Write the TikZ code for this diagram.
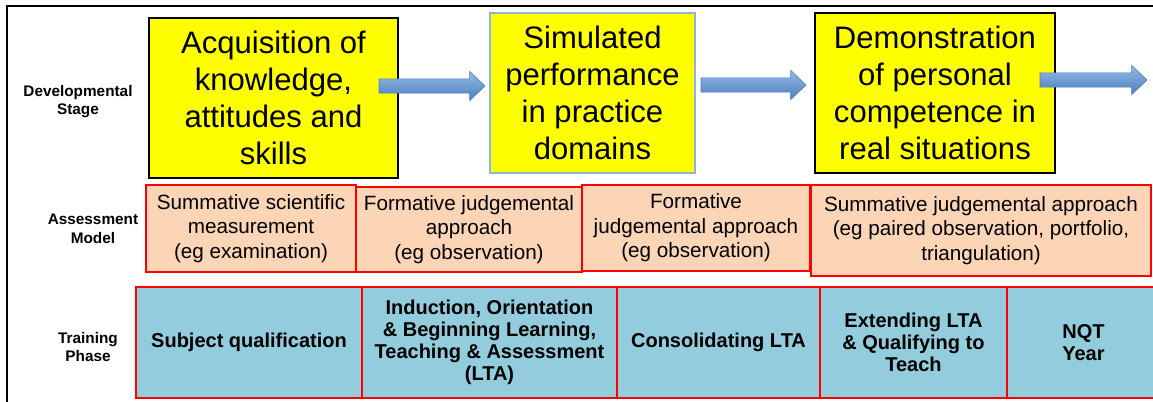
\documentclass[tikz,border=0pt]{standalone}
\usepackage{fontspec}
\setmainfont{Liberation Sans}
\usetikzlibrary{positioning,calc}

\definecolor{stageyellow}{HTML}{FFFF00}
\definecolor{modelpeach}{HTML}{FBD5B5}
\definecolor{phaseblue}{HTML}{93CDDD}
\definecolor{arrowtop}{HTML}{95BBE8}
\definecolor{arrowbot}{HTML}{4A7EBB}
\definecolor{arrowline}{HTML}{4A7EBB}
\definecolor{simline}{HTML}{8DB3E2}

\tikzset{
  stagebox/.style={draw=black, line width=1pt, fill=stageyellow, align=center,
    outer sep=0pt, inner sep=0pt, minimum height=120pt,
    font=\fontsize{23.3}{27.75}\selectfont},
  modelbox/.style={draw=red, line width=1pt, fill=modelpeach, align=center,
    outer sep=0pt, inner sep=0pt, font=\fontsize{15.5}{18.4}\selectfont},
  phasebox/.style={draw=red, line width=1pt, fill=phaseblue, align=center,
    outer sep=0pt, inner sep=0pt, minimum height=83.25pt,
    font=\bfseries\fontsize{15}{16.6}\selectfont},
  rowlabel/.style={align=center, font=\bfseries\fontsize{11.5}{14}\selectfont},
  arrowfill/.style={top color=arrowtop, bottom color=arrowbot, draw=arrowline, line width=0.4pt}
}

\begin{document}
\begin{tikzpicture}[x=0.75pt, y=-0.75pt]
  \clip (0,0) rectangle (1153,402);
  \fill[white] (0,0) rectangle (1153,402);
  % outer frame
  \draw[line width=2pt] (7,420) |- (1170,6);

  % row labels
  \node[rowlabel] (lstage) at (78,101.5) {Developmental\\Stage};
  \node[rowlabel] (lmodel) at (93,229) {Assessment\\Model};
  \node[rowlabel] (lphase) at (88,347) {Training\\Phase};

  % developmental stages
  \node[stagebox, minimum width=186.75pt] (acq) at (273.5,98)
    {Acquisition of\\knowledge,\\attitudes and\\skills};
  \node[stagebox, draw=simline, minimum width=153.75pt] (sim) at (592.5,93)
    {Simulated\\performance\\in practice\\domains};
  \node[stagebox, minimum width=180pt] (dem) at (935,93)
    {Demonstration\\of personal\\competence in\\real situations};

  % assessment models
  \node[modelbox, minimum width=157.5pt, minimum height=65.25pt] (ssm) at (251,228.5)
    {Summative scientific\\measurement\\(eg examination)};
  \node[modelbox, minimum width=169.5pt, minimum height=63.75pt] (fja) at (469,229.5)
    {Formative judgemental\\approach\\(eg observation)};
  \node[modelbox, minimum width=171pt, minimum height=64.5pt] (fjb) at (696,228)
    {Formative\\judgemental approach\\(eg observation)};
  \node[modelbox, minimum width=255pt, minimum height=68.25pt] (sja) at (981,230.5)
    {Summative judgemental approach\\(eg paired observation, portfolio,\\triangulation)};

  % training phases
  \node[phasebox, minimum width=169.5pt] (subj) at (249,342.5) {Subject qualification};
  \node[phasebox, minimum width=191.25pt, right=0pt of subj] (ind)
    {Induction, Orientation\\\& Beginning Learning,\\Teaching \& Assessment\\(LTA)};
  \node[phasebox, minimum width=152.25pt, right=0pt of ind] (cons) {Consolidating LTA};
  \node[phasebox, minimum width=140.25pt, right=0pt of cons] (ext)
    {Extending LTA\\\& Qualifying to\\Teach};
  \node[phasebox, minimum width=114.75pt, right=0pt of ext] (nqt) {NQT\\Year};

  % block arrows
  \coordinate (a1s) at (379,86);  \coordinate (a1e) at (485,86);
  \coordinate (a2s) at (701,85);  \coordinate (a2e) at (806,85);
  \coordinate (a3s) at (1040,80); \coordinate (a3e) at (1147,80);
  \foreach \s/\e in {a1s/a1e, a2s/a2e, a3s/a3e}
    \shade[arrowfill] let \p1=(\s), \p2=(\e) in
      (\x1,\y1+5.4pt) -- (\x2-11.5pt,\y1+5.4pt) -- (\x2-11.5pt,\y1+11pt)
      -- (\x2,\y1) -- (\x2-11.5pt,\y1-11pt) -- (\x2-11.5pt,\y1-5.4pt)
      -- (\x1,\y1-5.4pt) -- cycle;
\end{tikzpicture}
\end{document}
